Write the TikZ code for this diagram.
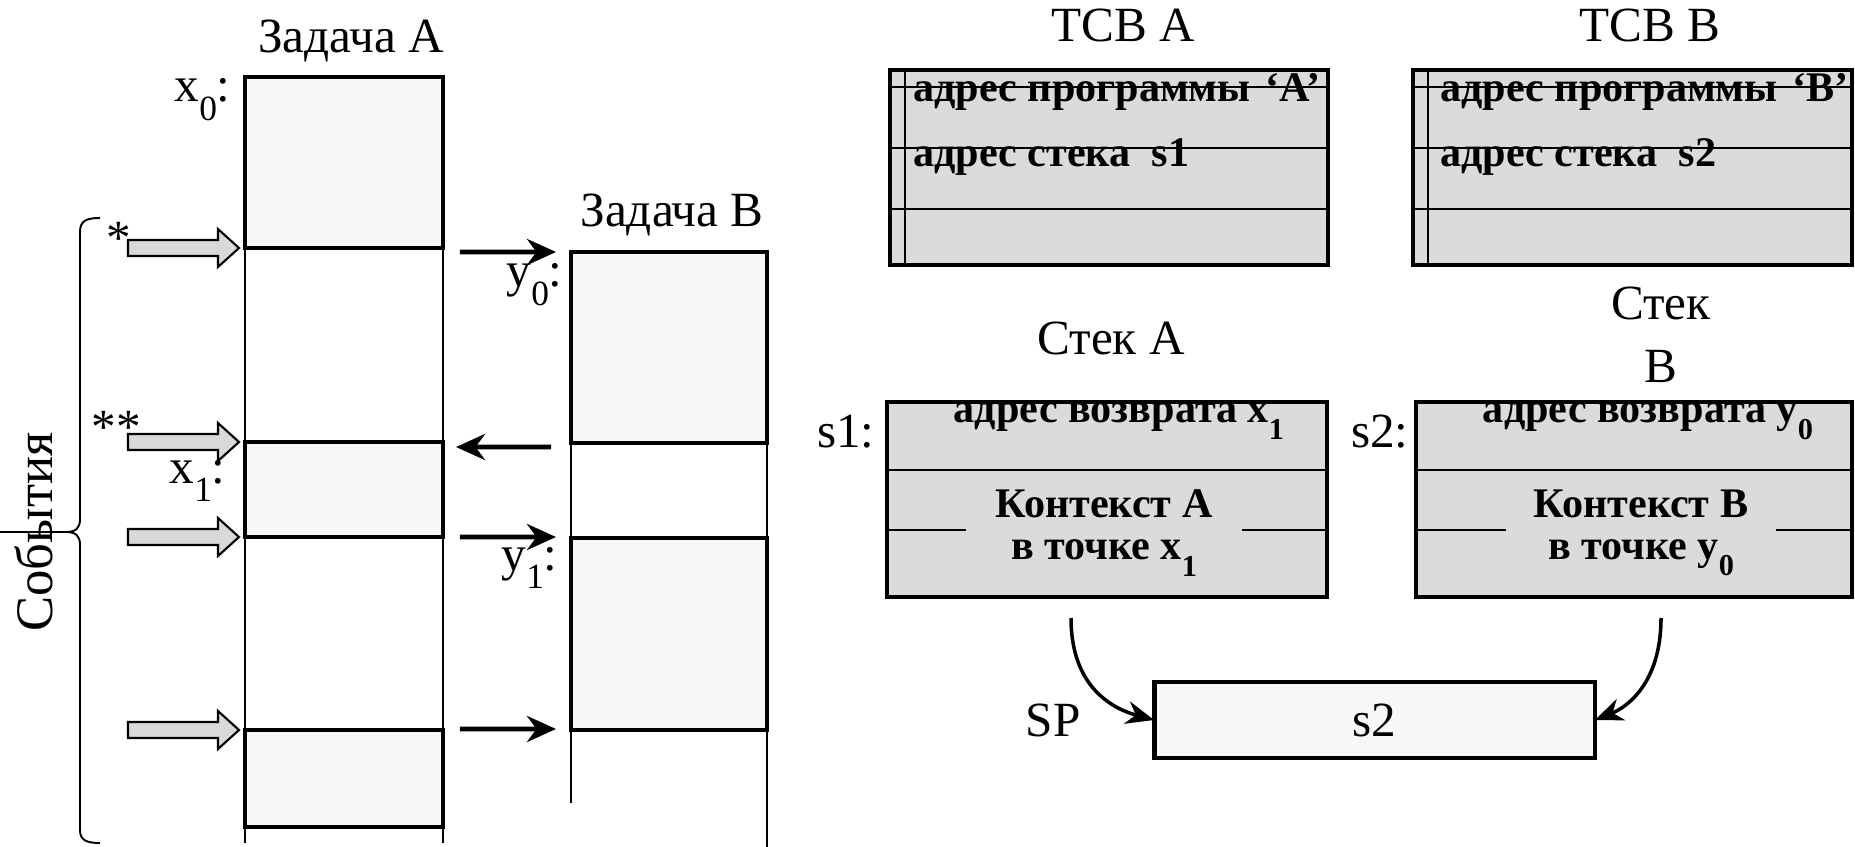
\documentclass[tikz,border=0pt]{standalone}
\usepackage{fontspec}
\setmainfont{Liberation Serif}
\usepackage{tikz}
\usetikzlibrary{arrows.meta,positioning,calc}
\definecolor{taskgray}{gray}{0.97}
\definecolor{cellgray}{gray}{0.86}
\definecolor{eventgray}{gray}{0.85}
\newcommand{\lo}[1]{\raisebox{-0.38em}{\scalebox{0.72}{#1}}}

\begin{document}
\begin{tikzpicture}[x=0.02cm, y=-0.02cm,
		bigtext/.style={font=\fontsize{28}{36}\selectfont, inner sep=0pt},
		celltext/.style={font=\bfseries\fontsize{24}{24}\selectfont, inner sep=0pt},
		taskbox/.style={draw, line width=2.8pt, fill=taskgray, minimum width=3.96cm, inner sep=0pt, outer sep=0pt},
		tablebox/.style={draw, line width=2.4pt, fill=cellgray, minimum height=3.9cm, inner sep=0pt, outer sep=0pt},
		colline/.style={line width=1pt},
		rowline/.style={line width=1.1pt},
		jump/.style={line width=2.6pt, -{Stealth[length=0.58cm, width=0.52cm]}},
		swing/.style={line width=2pt, -{Stealth[length=0.56cm, width=0.46cm]}},
		event/.style={draw, line width=1.2pt, fill=eventgray}]
	\useasboundingbox (0,0) rectangle (1855,847);

	\node[taskbox, minimum height=3.42cm] (a1) at (344,162.5) {};
	\node[taskbox, minimum height=1.90cm] (a2) at (344,489.5) {};
	\node[taskbox, minimum height=1.94cm] (a3) at (344,778.5) {};
	\node[taskbox, minimum width=3.92cm, minimum height=3.82cm] (b1) at (669,347.5) {};
	\node[taskbox, minimum width=3.92cm, minimum height=3.84cm] (b2) at (669,634) {};
	\coordinate (endA) at (0,843);
	\coordinate (endBl) at (0,803);
	\coordinate (endBr) at (0,847);
	\draw[colline] (a1.south west) -- (a1.south west |- endA);
	\draw[colline] (a1.south east) -- (a1.south east |- endA);
	\draw[colline] (b1.south west) -- (b1.south west |- endBl);
	\draw[colline] (b1.south east) -- (b1.south east |- endBr);

	\node[bigtext, anchor=base] (taskA) at (351,53) {Задача A};
	\node[bigtext, anchor=base] (taskB) at (672,227) {Задача B};
	\node[bigtext, anchor=base east] (x0) at (231,102) {x\lo{0}:};
	\node[bigtext, anchor=base east] (x1) at (226,483) {x\lo{1}:};
	\node[bigtext, anchor=base east] (y0) at (563,287) {y\lo{0}:};
	\node[bigtext, anchor=base east] (y1) at (558,570) {y\lo{1}:};
	\node[bigtext, anchor=base] (star1) at (119,255) {*};
	\node[bigtext, anchor=base] (star2) at (116,443) {**};
	\node[bigtext, rotate=90, font=\fontsize{30}{36}\selectfont] (events) at (34,532) {События};

	\foreach \y in {248,442,537,730}
		\draw[event] (128,\y-8) -- (218,\y-8) -- (218,\y-19) -- (239,\y) -- (218,\y+19) -- (218,\y+8) -- (128,\y+8) -- cycle;

	\draw[line width=1.1pt] (100,218) .. controls (86,218) and (80,221) .. (80,232) -- (80,519)
		.. controls (80,528) and (76,532) .. (66,532) -- (0,532);
	\draw[line width=1.1pt] (66,532) .. controls (76,532) and (80,536) .. (80,545) -- (80,830)
		.. controls (80,840) and (86,843) .. (100,843);

	\draw[jump] ($(a1.south east)+(17,4)$) -- ($(b1.north west)+(-15,0)$);
	\draw[jump] ($(b1.south west)+(-20,4)$) -- ($(a2.north east)+(13,5)$);
	\draw[jump] ($(a2.south east)+(17,0)$) -- ($(b2.north west)+(-15,-1)$);
	\draw[jump] ($(a3.north east)+(17,-1)$) -- ($(b2.south west)+(-15,-1)$);

	\node[bigtext, anchor=base] (tcbAtitle) at (1123,42) {TCB A};
	\node[bigtext, anchor=base] (tcbBtitle) at (1650,42) {TCB B};
	\node[tablebox, minimum width=8.76cm] (tcbA) at (1109,167.5) {};
	\node[tablebox, minimum width=8.78cm] (tcbB) at (1632.5,167.5) {};
	\foreach \t in {tcbA,tcbB} {
		\foreach \y in {87,148,209} {
			\coordinate (r) at (0,\y);
			\draw[rowline] (\t.west |- r) -- (\t.east |- r);
		}
		\draw[rowline] ($(\t.north west)+(15,0)$) -- ($(\t.south west)+(15,0)$);
	}
	\node[celltext, anchor=base west] (progA) at (913,102) {адрес программы \hspace{0.1em}‘A’};
	\node[celltext, anchor=base west] (stackAddrA) at (913,167) {адрес стека~~s1};
	\node[celltext, anchor=base west] (progB) at (1440,102) {адрес программы \hspace{0.1em}‘B’};
	\node[celltext, anchor=base west] (stackAddrB) at (1440,167) {адрес стека~~s2};

	\node[bigtext, anchor=base] (stackAtitle) at (1111,355) {Стек A};
	\node[bigtext, align=center] (stackBtitle) at (1661,335) {Стек\\B};
	\node[tablebox, minimum width=8.80cm] (stackA) at (1107,499.5) {};
	\node[tablebox, minimum width=8.72cm] (stackB) at (1634,499.5) {};
	\foreach \t in {stackA,stackB}
		\foreach \y in {470,530} {
			\coordinate (r) at (0,\y);
			\draw[rowline] (\t.west |- r) -- (\t.east |- r);
		}
	\node[bigtext, anchor=base east] (s1) at (875,448) {s1:};
	\node[bigtext, anchor=base east] (s2) at (1409,448) {s2:};
	\node[celltext, anchor=base] (retA) at (1119,423) {адрес возврата x\lo{1}};
	\node[celltext, anchor=base] (retB) at (1648,423) {адрес возврата y\lo{0}};
	\node[celltext, fill=cellgray, align=center, inner xsep=0.6cm, inner ysep=1pt] (ctxA) at (1104,533) {Контекст A\\в точке x\lo{1}};
	\node[celltext, fill=cellgray, align=center, inner xsep=0.55cm, inner ysep=1pt] (ctxB) at (1641,533) {Контекст B\\в точке y\lo{0}};

	\node[taskbox, minimum width=8.82cm, minimum height=1.52cm, font=\fontsize{28}{36}\selectfont] (spBox) at (1374.5,720) {s2};
	\node[bigtext, anchor=base] (sp) at (1053,736) {SP};
	\coordinate (fromA) at (1071,618);
	\coordinate (fromB) at (1661,618);
	\draw[swing] (fromA) .. controls (1071,685) and (1110,708) .. (spBox.west);
	\draw[swing] (fromB) .. controls (1661,685) and (1625,708) .. (spBox.east);
\end{tikzpicture}
\end{document}
